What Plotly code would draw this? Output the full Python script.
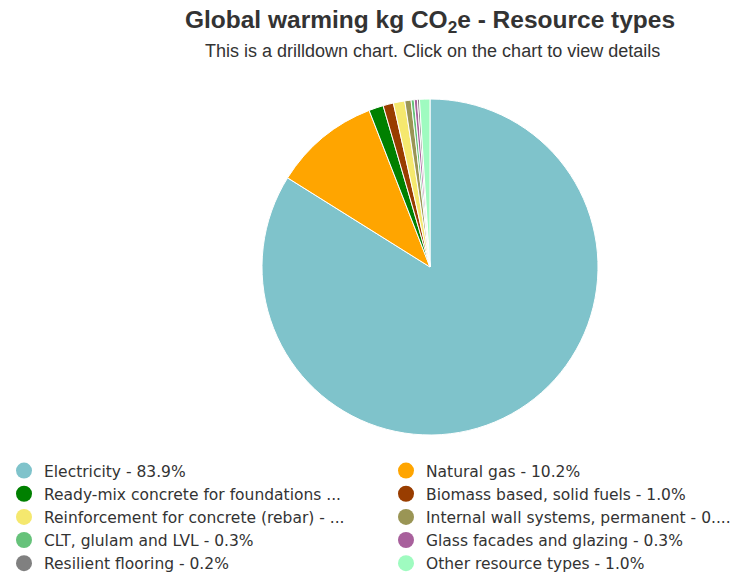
import plotly.graph_objects as go

# Resource types and their share of global warming impact (%)
categories = [
    "Electricity",
    "Natural gas",
    "Ready-mix concrete for foundations and internal walls",
    "Biomass based, solid fuels",
    "Reinforcement for concrete (rebar)",
    "Internal wall systems, permanent",
    "CLT, glulam and LVL",
    "Glass facades and glazing",
    "Resilient flooring",
    "Other resource types",
]
shares = [83.9, 10.2, 1.4, 1.0, 1.1, 0.6, 0.3, 0.3, 0.2, 1.0]
# Legend entries as shown (long names are cut short)
legend_text = [
    "Electricity - 83.9%",
    "Natural gas - 10.2%",
    "Ready-mix concrete for foundations ...",
    "Biomass based, solid fuels - 1.0%",
    "Reinforcement for concrete (rebar) - ...",
    "Internal wall systems, permanent - 0....",
    "CLT, glulam and LVL - 0.3%",
    "Glass facades and glazing - 0.3%",
    "Resilient flooring - 0.2%",
    "Other resource types - 1.0%",
]
colors = [
    "#7fc3cb", "#ffa500", "#008000", "#993d00", "#f5e86e",
    "#9a9555", "#66c27a", "#a8609c", "#808080", "#9ffbc0",
]

W, H = 744, 573
fig = go.Figure()

fig.add_trace(go.Pie(
    labels=categories,
    values=shares,
    marker=dict(colors=colors, line=dict(color="white", width=1)),
    sort=False,
    direction="clockwise",
    rotation=0,
    textinfo="none",
    hoverinfo="label+percent",
    showlegend=False,
    domain=dict(x=[262 / W, 598 / W], y=[1 - 435 / H, 1 - 99 / H]),
))

# Circular legend markers, laid out in two columns (left: even index, right: odd)
for i, (name, color) in enumerate(zip(legend_text, colors)):
    fig.add_trace(go.Scatter(
        x=[None], y=[None], mode="markers", name=name,
        marker=dict(symbol="circle", size=17, color=color),
        showlegend=True,
        legend="legend" if i % 2 == 0 else "legend2",
    ))

legend_style = dict(
    orientation="v",
    xanchor="left",
    y=1 - 454 / H, yanchor="top",
    maxheight=200,
    font=dict(size=15.5, color="#333333",
              family="DejaVu Sans, Arial, sans-serif"),
    itemsizing="trace",
    tracegroupgap=0,
    bgcolor="rgba(0,0,0,0)",
)

fig.update_layout(
    width=W, height=H,
    margin=dict(l=0, r=0, t=0, b=0, autoexpand=False),
    paper_bgcolor="white",
    plot_bgcolor="white",
    font=dict(family="Liberation Sans, Arial, sans-serif", color="#333333"),
    xaxis=dict(visible=False),
    yaxis=dict(visible=False),
    title=dict(
        text="<b>Global warming kg CO<sub>2</sub>e - Resource types</b>",
        x=430 / W, xanchor="center", y=1 - 19 / H, yanchor="middle",
        font=dict(size=24.5, color="#333333"),
    ),
    annotations=[dict(
        text="This is a drilldown chart. Click on the chart to view details",
        x=432 / W, y=1 - 51 / H, xref="paper", yref="paper",
        xanchor="center", yanchor="middle", showarrow=False,
        font=dict(size=18, color="#333333"),
    )],
    legend=dict(x=4 / W, **legend_style),
    legend2=dict(x=386 / W, **legend_style),
)

fig.write_html("out.html")
